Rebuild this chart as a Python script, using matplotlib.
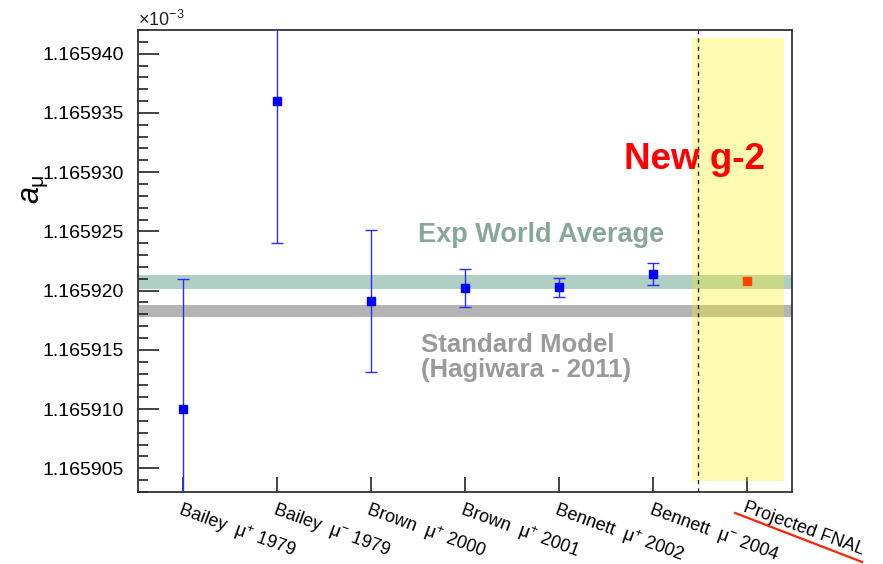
#!/usr/bin/env python3
"""
Muon anomalous magnetic moment: measurement history vs. Standard Model.
"""

import matplotlib.pyplot as plt
from matplotlib.ticker import MultipleLocator, FormatStrFormatter

plt.rcParams['font.family'] = ['Liberation Sans', 'DejaVu Sans']
plt.rcParams['mathtext.fontset'] = 'custom'
plt.rcParams['mathtext.rm'] = 'Liberation Sans'
plt.rcParams['mathtext.it'] = 'Liberation Sans:italic'

# Measurements (a_mu in units of 1e-3)
LABELS = [r'Bailey  $\mathrm{\mu}^{+}$ 1979', r'Bailey  $\mathrm{\mu}^{-}$ 1979',
          r'Brown  $\mathrm{\mu}^{+}$ 2000', r'Brown  $\mathrm{\mu}^{+}$ 2001',
          r'Bennett  $\mathrm{\mu}^{+}$ 2002', r'Bennett  $\mathrm{\mu}^{-}$ 2004',
          'Projected FNAL']
A_MU = [1.165910, 1.165936, 1.1659191, 1.1659202, 1.1659203, 1.1659214]
A_ERR = [0.0000110, 0.0000120, 0.0000060, 0.0000016, 0.0000008, 0.0000009]
FNAL_PROJ = 1.1659208

# Reference bands: (centre, half-width)
EXP_AVG = (1.16592075, 0.00000060)
SM_PRED = (1.16591830, 0.00000050)

# Projected region
PROJ_X = (5.41, 6.39)
PROJ_Y = (1.1659039, 1.1659413)
DIVIDER_X = 5.48

fig = plt.figure(figsize=(8.83, 5.64), dpi=100)
ax = fig.add_axes([0.1563, 0.1277, 0.7407, 0.8191])

ax.axhspan(EXP_AVG[0] - EXP_AVG[1], EXP_AVG[0] + EXP_AVG[1], color='#b0cfc4', lw=0, zorder=1)
ax.axhspan(SM_PRED[0] - SM_PRED[1], SM_PRED[0] + SM_PRED[1], color='#b4b4b4', lw=0, zorder=1)

ax.fill_between(PROJ_X, PROJ_Y[0], PROJ_Y[1], color=(1.0, 0.95, 0.0), alpha=0.3,
                lw=0, zorder=2)
ax.axvline(DIVIDER_X, color='#222222', ls=(0, (3, 3)), lw=1.0, zorder=3)

x = list(range(len(A_MU)))
ax.errorbar(x, A_MU, yerr=A_ERR, fmt='s', color='#0000ff', ecolor='#2b2bff',
            ms=6, elinewidth=1.0, capsize=4, capthick=1.0, zorder=4)
ax.plot([len(A_MU)], [FNAL_PROJ], 's', color='#ff4400', ms=5.5, zorder=5)

ax.set_xlim(-0.48, 6.48)
ax.set_ylim(1.165903, 1.165942)

ax.text(5.44, 1.1659303, 'New g-2', color='#ff0000', fontsize=26.5,
        fontweight='bold', ha='center', va='baseline', zorder=6)
ax.text(2.50, 1.1659241, 'Exp World Average', color='#88a897', fontsize=19.5,
        fontweight='bold', ha='left', va='baseline')
ax.text(2.53, 1.1659148, 'Standard Model', color='#9a9a9a', fontsize=18.5,
        fontweight='bold', ha='left', va='baseline')
ax.text(2.53, 1.1659127, '(Hagiwara - 2011)', color='#9a9a9a', fontsize=18.5,
        fontweight='bold', ha='left', va='baseline')

# axes styling
ax.set_xticks(range(len(LABELS)))
ax.set_xticklabels(LABELS, rotation=-20, ha='left', va='top',
                   rotation_mode='anchor', fontsize=13)
ax.yaxis.set_major_locator(MultipleLocator(0.000005))
ax.yaxis.set_minor_locator(MultipleLocator(0.000001))
ax.yaxis.set_major_formatter(FormatStrFormatter('%.6f'))
ax.tick_params(axis='x', direction='in', length=11, width=1.2, pad=5,
               color='#222222')
ax.tick_params(axis='y', which='major', direction='in', length=15, width=1.2,
               pad=10, labelsize=14, color='#222222')
ax.tick_params(axis='y', which='minor', direction='in', length=7.5, width=1.2,
               color='#222222')
for s in ax.spines.values():
    s.set_linewidth(1.3)
    s.set_color('#333333')

ax.text(0.0, 1.0, r'$\times\mathrm{10}^{\mathrm{-3}}$', transform=ax.transAxes,
        fontsize=13, ha='left', va='bottom', color='#222222')
fig.text(0.040, 0.665, r'$a_{\mathrm{\mu}}$', rotation=90, fontsize=22,
         ha='center', va='center')

# strike through the projected label
ax.plot([0.913, 1.107], [-0.0455, -0.1515], color='#ff2200', lw=1.6,
        transform=ax.transAxes, clip_on=False)

fig.savefig('out.png', dpi=100)
